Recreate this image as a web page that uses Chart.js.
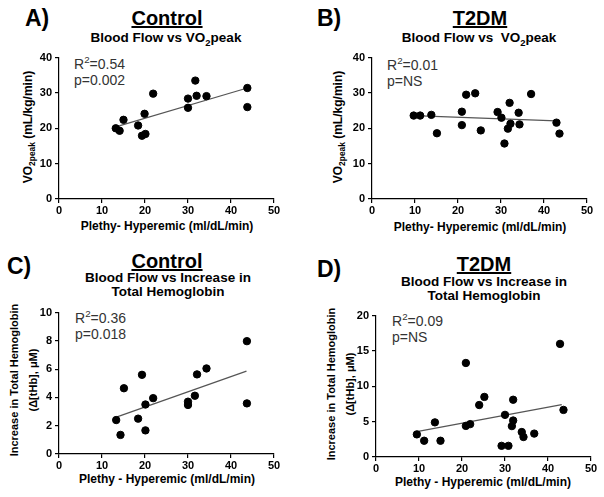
<!DOCTYPE html>
<html>
<head>
<meta charset="utf-8">
<script src="https://cdn.jsdelivr.net/npm/chart.js@4.4.1/dist/chart.umd.min.js"></script>
<style>
  body { margin: 0; background: #fff; font-family: 'Liberation Sans', Arial, sans-serif; }
  #page { position: relative; width: 604px; height: 497px; overflow: hidden; }
  canvas { position: absolute; }
  .txt { position: absolute; line-height: 1; white-space: nowrap; color: #000; }
  .letter { font-weight: bold; font-size: 23px; }
  .group { font-weight: bold; font-size: 20px; text-decoration: underline; transform: translateX(-50%); }
  .sub { font-weight: bold; font-size: 13.5px; text-align: center; line-height: 14px; transform: translateX(-50%); }
  .xt { font-weight: bold; font-size: 12px; transform: translateX(-50%); }
  .yt { font-weight: bold; text-align: center; transform: translate(-50%, -50%) rotate(-90deg); }
  .ann { font-size: 14px; color: #333; line-height: 16px; }
  sub, sup { font-size: 70%; line-height: 0; }
</style>
</head>
<body>
<div id="page">
  <div class="txt letter" style="left:25px; top:7px;">A)</div>
  <div class="txt group" style="left:167px; top:8px;">Control</div>
  <div class="txt sub" style="left:166px; top:31px;">Blood Flow vs VO<sub>2</sub>peak</div>
  <div class="txt yt" style="left:28px; top:127px; font-size:12px;">VO<sub>2peak</sub> (mL/kg/min)</div>
  <div class="txt xt" style="left:167px; top:220px;">Plethy- Hyperemic (ml/dL/min)</div>
  <div class="txt ann" style="left:74px; top:56px;">R<sup>2</sup>=0.54<br>p=0.002</div>

  <div class="txt letter" style="left:317px; top:7px;">B)</div>
  <div class="txt group" style="left:480px; top:8px;">T2DM</div>
  <div class="txt sub" style="left:479px; top:31px;">Blood Flow vs&nbsp; VO<sub>2</sub>peak</div>
  <div class="txt yt" style="left:338px; top:127px; font-size:12px;">VO<sub>2peak</sub> (mL/kg/min)</div>
  <div class="txt xt" style="left:480px; top:221px;">Plethy- Hyperemic (ml/dL/min)</div>
  <div class="txt ann" style="left:387px; top:57px;">R<sup>2</sup>=0.01<br>p=NS</div>

  <div class="txt letter" style="left:7px; top:255px;">C)</div>
  <div class="txt group" style="left:167px; top:251px;">Control</div>
  <div class="txt sub" style="left:168px; top:271px;">Blood Flow vs Increase in<br>Total Hemoglobin</div>
  <div class="txt yt" style="left:24px; top:380px; font-size:11px; line-height:19px;">Increase in Total Hemoglobin<br>(Δ[tHb], μM)</div>
  <div class="txt xt" style="left:167px; top:473px;">Plethy - Hyperemic (ml/dL/min)</div>
  <div class="txt ann" style="left:75px; top:310px;">R<sup>2</sup>=0.36<br>p=0.018</div>

  <div class="txt letter" style="left:317px; top:258px;">D)</div>
  <div class="txt group" style="left:484px; top:254px;">T2DM</div>
  <div class="txt sub" style="left:484px; top:275px;">Blood Flow vs Increase in<br>Total Hemoglobin</div>
  <div class="txt yt" style="left:341px; top:384px; font-size:11px; line-height:19px;">Increase in Total Hemoglobin<br>(Δ[tHb], μM)</div>
  <div class="txt xt" style="left:483px; top:476px;">Plethy - Hyperemic (ml/dL/min)</div>
  <div class="txt ann" style="left:392px; top:313px;">R<sup>2</sup>=0.09<br>p=NS</div>
</div>
<script>
// A) Control - blood flow vs VO2peak
const ctrlFlowA = [13.2, 14.1, 15.0, 18.4, 19.3, 20.1, 19.9, 21.9, 30.0, 30.0, 31.7, 32.0, 34.3, 43.8, 43.8];
const ctrlVO2 = [20.0, 19.3, 22.4, 20.8, 17.9, 18.4, 24.1, 29.8, 28.4, 25.8, 33.5, 29.2, 29.1, 31.4, 26.0];
const ctrlVO2LineX = [13.2, 43.8];
const ctrlVO2LineY = [20.4, 31.4];

// B) T2DM - blood flow vs VO2peak
const t2dmFlowB = [9.7, 11.2, 13.8, 15.1, 20.9, 20.9, 21.9, 24.0, 25.3, 29.2, 30.1, 30.8, 31.6, 32.0, 32.2, 34.1, 34.3, 37.0, 42.9, 43.6];
const t2dmVO2 = [23.6, 23.6, 23.8, 18.6, 24.7, 20.9, 29.5, 29.9, 19.4, 24.6, 23.0, 15.7, 19.9, 27.2, 21.3, 24.4, 21.1, 29.7, 21.6, 18.5];
const t2dmVO2LineX = [9.7, 42.9];
const t2dmVO2LineY = [23.6, 22.1];

// C) Control - blood flow vs increase in tHb
const ctrlFlowC = [13.3, 14.3, 15.1, 18.4, 19.3, 20.1, 20.1, 21.9, 30.0, 30.0, 31.6, 32.1, 34.3, 43.7, 43.7];
const ctrlHb = [2.4, 1.35, 4.65, 2.5, 5.6, 1.67, 3.5, 3.95, 3.70, 3.47, 4.12, 5.63, 6.05, 7.98, 3.58];
const ctrlHbLineX = [13.5, 43.6];
const ctrlHbLineY = [2.63, 5.86];

// D) T2DM - blood flow vs increase in tHb
const t2dmFlowD = [9.5, 11.2, 13.7, 15.0, 20.9, 20.9, 21.9, 24.0, 25.2, 29.2, 30.0, 30.8, 31.6, 31.9, 31.9, 33.9, 34.3, 36.8, 42.8, 43.6];
const t2dmHb = [3.2, 2.3, 4.9, 2.3, 13.3, 4.4, 4.65, 7.35, 8.5, 1.58, 5.96, 1.58, 4.37, 5.16, 8.1, 3.53, 2.83, 3.31, 16.0, 6.66];
const t2dmHbLineX = [9.5, 43.2];
const t2dmHbLineY = [3.58, 7.4];

const xTicks = [0, 10, 20, 30, 40, 50];

const PAD_L = 45, PAD_T = 8, PAD_R = 14, X_H = 22;

function pts(xs, ys) {
    return xs.map((x, i) => ({ x: x, y: ys[i] }));
}

function makePanel(left, top, w, h, xs, ys, lx, ly, yMax, yStep) {
    const canvas = document.createElement('canvas');
    const cw = w + PAD_L + PAD_R;
    const ch = h + PAD_T + X_H;
    canvas.width = cw;
    canvas.height = ch;
    canvas.style.left = (left - PAD_L) + 'px';
    canvas.style.top = (top - PAD_T) + 'px';
    document.getElementById('page').appendChild(canvas);

    const tickFont = { family: 'Liberation Sans', size: 11, weight: 'bold' };
    const axisGrid = { drawOnChartArea: false, drawTicks: true, tickLength: 4, color: '#000', lineWidth: 1.2 };

    new Chart(canvas.getContext('2d'), {
        type: 'scatter',
        data: {
            datasets: [
                {
                    data: pts(xs, ys),
                    backgroundColor: '#000',
                    borderColor: '#000',
                    pointRadius: 3.7,
                    pointHoverRadius: 3.7
                },
                {
                    type: 'line',
                    data: pts(lx, ly),
                    borderColor: '#555',
                    borderWidth: 1.2,
                    pointRadius: 0,
                    fill: false
                }
            ]
        },
        options: {
            responsive: false,
            devicePixelRatio: 1,
            animation: false,
            layout: { padding: { left: 0, top: PAD_T, right: PAD_R, bottom: 0 } },
            plugins: { legend: { display: false }, tooltip: { enabled: false } },
            scales: {
                x: {
                    type: 'linear',
                    min: 0, max: 50,
                    afterFit: s => { s.height = X_H; },
                    afterBuildTicks: s => { s.ticks = xTicks.map(v => ({ value: v })); },
                    ticks: { color: '#000', font: tickFont, padding: 1, maxRotation: 0 },
                    grid: axisGrid,
                    border: { color: '#000', width: 1.2 }
                },
                y: {
                    type: 'linear',
                    min: 0, max: yMax,
                    afterFit: s => { s.width = PAD_L; },
                    ticks: { stepSize: yStep, color: '#000', font: tickFont, padding: 3 },
                    grid: axisGrid,
                    border: { color: '#000', width: 1.2 }
                }
            }
        }
    });
}

makePanel(59, 56, 215, 143, ctrlFlowA, ctrlVO2, ctrlVO2LineX, ctrlVO2LineY, 40, 10);
makePanel(372, 56, 215, 143, t2dmFlowB, t2dmVO2, t2dmVO2LineX, t2dmVO2LineY, 40, 10);
makePanel(59, 311, 215, 143, ctrlFlowC, ctrlHb, ctrlHbLineX, ctrlHbLineY, 10, 2);
makePanel(376, 314, 215, 143, t2dmFlowD, t2dmHb, t2dmHbLineX, t2dmHbLineY, 20, 5);
</script>
</body>
</html>
